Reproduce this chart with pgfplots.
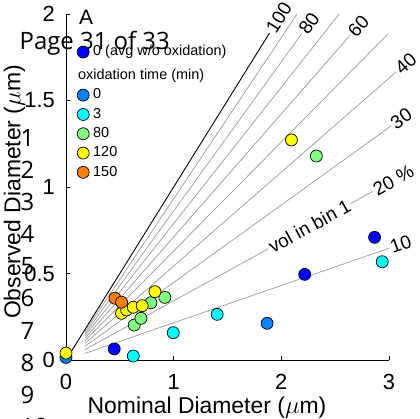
\documentclass[border=0pt]{standalone}
\usepackage{pgfplots}
\pgfplotsset{compat=1.18}
\usepackage{fontspec}
\setmainfont{Liberation Sans}
\newfontfamily\osans{Open Sans}
\definecolor{cdark}{rgb}{0,0,1}
\definecolor{cmid}{rgb}{0.05,0.5,1}
\definecolor{ccyan}{rgb}{0,1,1}
\definecolor{cgreen}{rgb}{0.5,1,0.5}
\definecolor{cyellow}{rgb}{1,1,0}
\definecolor{corange}{rgb}{1,0.5,0}
\definecolor{lgray}{rgb}{0.6,0.6,0.6}
\tikzset{lbl/.style={sloped, anchor=west, inner sep=1.5bp, text=black, font=\fontsize{19}{22}\selectfont}}
\begin{document}
\begin{tikzpicture}
\path[use as bounding box] (-66bp,-59bp) rectangle (354bp,360bp);
\begin{scope}[every node/.style={inner sep=0pt, anchor=base west, font=\osans\fontsize{24}{28}\selectfont}]
\node at (-46.5bp,310bp) {Page 31 of 33};
\foreach \n/\y in {1/213,2/181,3/149,4/117,5/85,6/53,7/21,8/-11,9/-43,10/-75}{\node at (-45.5bp,\y bp) {\n};}
\end{scope}
\begin{axis}[at={(0,0)}, anchor=south west, scale only axis,
  width=323bp, height=346bp,
  xmin=0, xmax=3, ymin=0, ymax=2,
  axis lines=left, axis line style={-, line width=0.8bp},
  tick align=inside, major tick length=4bp, tick style={black, line width=0.8bp},
  xtick={0,1,2,3}, ytick={0,0.5,1,1.5,2},
  /pgf/number format/assume math mode=true,
  tick label style={font=\fontsize{22}{26}\selectfont},
  xticklabel style={anchor=base, inner sep=0pt, yshift=-30bp},
  yticklabel style={anchor=east, inner sep=0pt, xshift=-11bp},
  clip=false,
  legend cell align=left,
  legend image code/.code={\draw[mark repeat=2,mark phase=2,#1] plot coordinates {(0bp,0bp)(8bp,0bp)(16bp,0bp)};},
  legend style={at={(axis description cs:0.0279,0.913)}, anchor=north west, draw=none, fill=none,
    font=\fontsize{14.5}{17}\selectfont, inner sep=0pt, row sep=3.8bp,
    /tikz/every odd column/.append style={column sep=3bp},
    nodes={inner sep=1bp, text height=10.5bp, text depth=3bp}},
  mark size=6bp,
]
% fan lines
\addplot[black, line width=0.9bp, forget plot] coordinates {(0,0) (1.89,1.89)}
  node[pos=1, lbl] {100};
\addplot[lgray, line width=0.7bp, forget plot] coordinates {(0.175,0.1631) (2.146,2.0)};
\addplot[lgray, line width=0.7bp, forget plot] coordinates {(0.175,0.1508) (2.19,1.887)}
  node[pos=1, lbl] {80};
\addplot[lgray, line width=0.7bp, forget plot] coordinates {(0.175,0.1380) (2.537,2.0)};
\addplot[lgray, line width=0.7bp, forget plot] coordinates {(0.175,0.1245) (2.64,1.878)}
  node[pos=1, lbl] {60};
\addplot[lgray, line width=0.7bp, forget plot] coordinates {(0.175,0.1103) (2.99,1.884)};
\addplot[lgray, line width=0.7bp, forget plot] coordinates {(0.175,0.0950) (3.07,1.667)}
  node[pos=1, lbl] {40};
\addplot[lgray, line width=0.7bp, forget plot] coordinates {(0.175,0.0784) (3.02,1.353)}
  node[pos=1, lbl] {30};
\addplot[lgray, line width=0.7bp, forget plot] coordinates {(0.175,0.0599) (2.85,0.975)}
  node[pos=0.78, sloped, fill=white, inner sep=1.5bp, text=black, font=\fontsize{19}{22}\selectfont] {vol in bin 1}
  node[pos=1, lbl] {20 \%};
\addplot[lgray, line width=0.7bp, forget plot] coordinates {(0.175,0.0377) (3.0,0.646)}
  node[pos=1, lbl] {10};
% data
\addplot[only marks, mark=*, draw=black, fill=cdark, line width=0.7bp] coordinates {(0.448,0.064) (2.217,0.495) (2.866,0.709)};
\addlegendentry{0 (avg w/o oxidation)}
\addlegendimage{empty legend}
\addlegendentry[text height=15bp]{\hspace*{-15bp}oxidation time (min)}
\addplot[only marks, mark=*, draw=black, fill=cmid, line width=0.7bp] coordinates {(0,0.015) (1.868,0.212)};
\addlegendentry{0}
\addplot[only marks, mark=*, draw=black, fill=ccyan, line width=0.7bp] coordinates {(0.625,0.023) (0.996,0.158) (1.404,0.264) (2.937,0.568)};
\addlegendentry{3}
\addplot[only marks, mark=*, draw=black, fill=cgreen, line width=0.7bp] coordinates {(0.634,0.202) (0.696,0.241) (0.789,0.331) (0.918,0.362) (2.325,1.179)};
\addlegendentry{80}
\addplot[only marks, mark=*, draw=black, fill=cyellow, line width=0.7bp] coordinates {(0,0.04) (0.516,0.27) (0.563,0.289) (0.625,0.305) (0.708,0.314) (0.826,0.395) (2.094,1.272)};
\addlegendentry{120}
\addplot[only marks, mark=*, draw=black, fill=corange, line width=0.7bp] coordinates {(0.455,0.357) (0.516,0.334)};
\addlegendentry{150}
\end{axis}
\node[anchor=base west, inner sep=0pt, font=\fontsize{21}{25}\selectfont] at (13bp,335bp) {A};
\node[anchor=base, inner sep=0pt, font=\fontsize{23}{27}\selectfont] at (141bp,-53bp) {Nominal Diameter ($\mu$m)};
\node[anchor=base, rotate=90, inner sep=0pt, font=\fontsize{23}{27}\selectfont] at (-45.5bp,168bp) {Observed Diameter ($\mu$m)};
\end{tikzpicture}
\end{document}
